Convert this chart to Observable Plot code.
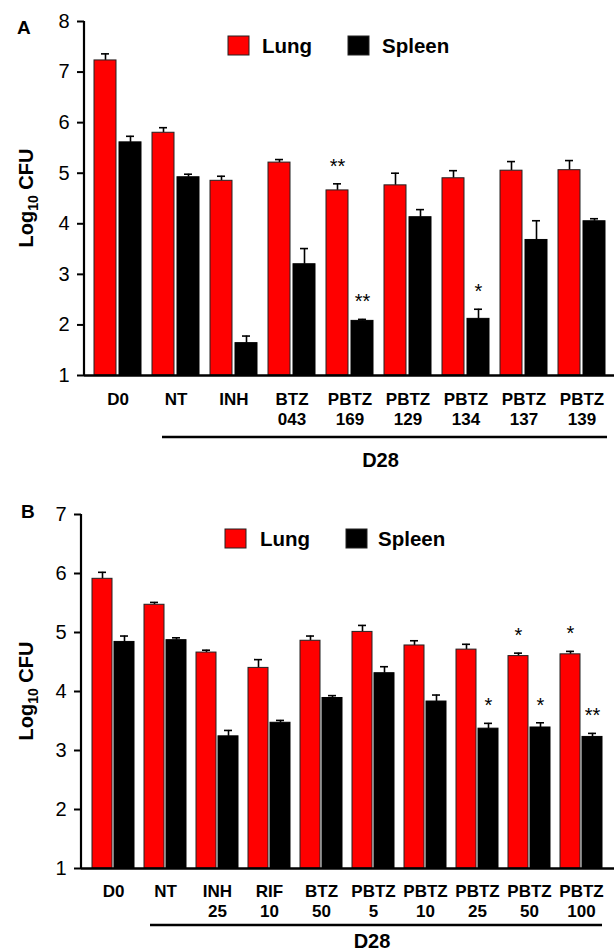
<!DOCTYPE html>
<html><head><meta charset="utf-8">
<script src="https://cdn.jsdelivr.net/npm/d3@7"></script>
<script src="https://cdn.jsdelivr.net/npm/@observablehq/plot@0.6"></script>
<style>
body{margin:0;background:#fff;font-family:"Liberation Sans",Arial,sans-serif;}
#wrap{width:616px;}
svg{display:block;}
</style></head><body><div id="wrap"></div>
<script>
// ---- Panel A data ----
const groupsA = ["D0","NT","INH","BTZ\n043","PBTZ\n169","PBTZ\n129","PBTZ\n134","PBTZ\n137","PBTZ\n139"];
const lungA = [7.23,5.80,4.85,5.21,4.66,4.76,4.90,5.05,5.06];
const lungErrA = [7.36,5.90,4.94,5.27,4.79,5.00,5.05,5.23,5.25];
const spleenA = [5.61,4.92,1.64,3.20,2.08,4.13,2.12,3.68,4.05];
const spleenErrA = [5.73,4.98,1.78,3.51,2.11,4.28,2.31,4.06,4.10];
const lungSigA = ["","","","","**","","","",""];
const spleenSigA = ["","","","","**","","*","",""];
const yTicksA = [1,2,3,4,5,6,7,8];

// ---- Panel B data ----
const groupsB = ["D0","NT","INH\n25","RIF\n10","BTZ\n50","PBTZ\n5","PBTZ\n10","PBTZ\n25","PBTZ\n50","PBTZ\n100"];
const lungB = [5.91,5.47,4.66,4.40,4.86,5.01,4.78,4.71,4.60,4.63];
const lungErrB = [6.02,5.51,4.70,4.54,4.94,5.12,4.86,4.80,4.65,4.68];
const spleenB = [4.84,4.87,3.24,3.47,3.89,4.31,3.83,3.37,3.39,3.23];
const spleenErrB = [4.94,4.91,3.34,3.51,3.93,4.42,3.94,3.46,3.47,3.29];
const lungSigB = ["","","","","","","","","*","*"];
const spleenSigB = ["","","","","","","","*","*","**"];
const yTicksB = [1,2,3,4,5,6,7];

const seriesNames = ["Lung","Spleen"];
const seriesColors = ["#ff0000","#000000"];
const dayLabel = "D28";
const yLabel = ["Log","10"," CFU"];

function panel(cfg) {
  const {groups, lung, lungErr, spleen, spleenErr, lungSig, spleenSig, yTicks, letter,
         height, marginTop, marginBottom, marginLeft, pi, po, gap, tickPad, leg, d28} = cfg;
  const rows = groups.map((g, i) => ({g, lung: lung[i], lungErr: lungErr[i], spleen: spleen[i],
    spleenErr: spleenErr[i], lungSig: lungSig[i], spleenSig: spleenSig[i]}));
  const yMax = d3.max(yTicks), yMin = d3.min(yTicks);
  const base = {
    width: 616, height, marginTop, marginBottom, marginLeft, marginRight: 2,
    x: {domain: groups, paddingInner: pi, paddingOuter: po},
    y: {domain: [yMin, yMax]},
    style: {fontFamily: "'Liberation Sans', Arial, sans-serif", color: "black", background: "white", overflow: "visible"}
  };
  const probe = Plot.plot({...base, marks: [Plot.barY(rows, {x: "g", y1: yMin, y2: "lung"})]});
  const bw = probe.scale("x").bandwidth;
  const half = (bw - gap) / 2;
  const off = (bw + gap) / 4;
  const cap = bw / 2 - 4;
  const sw = 1.6;
  const svg = Plot.plot({
    ...base,
    marks: [
      Plot.ruleX(rows, {x: "g", y1: "lung", y2: "lungErr", dx: -off, strokeWidth: sw}),
      Plot.tickY(rows, {x: "g", y: "lungErr", dx: -off, insetLeft: cap, insetRight: cap, strokeWidth: sw}),
      Plot.ruleX(rows, {x: "g", y1: "spleen", y2: "spleenErr", dx: off, strokeWidth: sw}),
      Plot.tickY(rows, {x: "g", y: "spleenErr", dx: off, insetLeft: cap, insetRight: cap, strokeWidth: sw}),
      Plot.barY(rows, {x: "g", y1: yMin, y2: "lung", fill: seriesColors[0], stroke: "#222", strokeWidth: 1, insetRight: half + gap}),
      Plot.barY(rows, {x: "g", y1: yMin, y2: "spleen", fill: seriesColors[1], stroke: "#000", strokeWidth: 1, insetLeft: half + gap}),
      Plot.text(rows, {x: "g", y: "lungErr", text: "lungSig", dx: -off, dy: -11, lineAnchor: "bottom", fontSize: 20}),
      Plot.text(rows, {x: "g", y: "spleenErr", text: "spleenSig", dx: off, dy: -11, lineAnchor: "bottom", fontSize: 20}),
      Plot.ruleY([yMin], {strokeWidth: 2.5}),
      Plot.axisY({ticks: yTicks, tickSize: 7, tickPadding: 8, fontSize: 20, strokeWidth: 2, label: null, tickFormat: d3.format("d")}),
      Plot.axisX({tickSize: 0, tickPadding: tickPad, fontSize: 17, fontWeight: "bold", lineHeight: 1.18, label: null})
    ]
  });
  const sx = svg.scale("x"), sy = svg.scale("y");
  const s = d3.select(svg);
  // vertical axis line
  s.append("line").attr("x1", marginLeft).attr("x2", marginLeft)
    .attr("y1", sy.apply(yMax)).attr("y2", sy.apply(yMin) + 1)
    .attr("stroke", "black").attr("stroke-width", 2.2);
  // panel letter
  s.append("text").attr("x", leg.letterX).attr("y", leg.letterY).attr("font-size", 19)
    .attr("text-anchor", "start").attr("font-weight", "bold").attr("fill", "black").text(letter);
  // y label
  const midY = (sy.apply(yMax) + sy.apply(yMin)) / 2;
  const yl = s.append("text").attr("transform", `translate(33,${midY}) rotate(-90)`)
    .attr("text-anchor", "middle").attr("font-size", 20).attr("font-weight", "bold").attr("fill", "black");
  yl.append("tspan").text(yLabel[0]);
  yl.append("tspan").attr("font-size", 14).attr("dy", 5).text(yLabel[1]);
  yl.append("tspan").attr("dy", -5).text(yLabel[2]);
  // legend
  seriesNames.forEach((name, i) => {
    s.append("rect").attr("x", leg.rx[i]).attr("y", marginTop + 15).attr("width", 21).attr("height", 19)
      .attr("fill", seriesColors[i]).attr("stroke", "#222").attr("stroke-width", 1);
    s.append("text").attr("x", leg.tx[i]).attr("y", marginTop + 32).attr("font-size", 20.5)
      .attr("text-anchor", "start").attr("font-weight", "bold").attr("fill", "black").text(name);
  });
  // D28 bracket
  const x1 = sx.apply(groups[1]) + d28.startOff;
  const x2 = sx.apply(groups[groups.length - 1]) + bw + d28.endOff;
  s.append("line").attr("x1", x1).attr("x2", x2).attr("y1", d28.lineY).attr("y2", d28.lineY)
    .attr("stroke", "black").attr("stroke-width", 2.5);
  s.append("text").attr("x", (x1 + x2) / 2 - 4).attr("y", d28.textY).attr("text-anchor", "middle")
    .attr("font-size", 20).attr("font-weight", "bold").attr("fill", "black").text(dayLabel);
  return svg;
}

const wrap = document.getElementById("wrap");
wrap.appendChild(panel({
  groups: groupsA, lung: lungA, lungErr: lungErrA, spleen: spleenA, spleenErr: spleenErrA,
  lungSig: lungSigA, spleenSig: spleenSigA, yTicks: yTicksA, letter: "A",
  height: 480, marginTop: 21, marginBottom: 105, marginLeft: 84, pi: 0.195, po: 0.12, gap: 3, tickPad: 15,
  leg: {letterX: 17, letterY: 34, rx: [228, 348], tx: [262, 382]},
  d28: {startOff: 10, endOff: 2, lineY: 437, textY: 467}
}));
wrap.appendChild(panel({
  groups: groupsB, lung: lungB, lungErr: lungErrB, spleen: spleenB, spleenErr: spleenErrB,
  lungSig: lungSigB, spleenSig: spleenSigB, yTicks: yTicksB, letter: "B",
  height: 472, marginTop: 34, marginBottom: 84, marginLeft: 81, pi: 0.184, po: 0.133, gap: 2, tickPad: 14,
  leg: {letterX: 21, letterY: 38, rx: [225, 346], tx: [260, 378]},
  d28: {startOff: 6, endOff: 0, lineY: 445, textY: 468}
}));
</script></body></html>
